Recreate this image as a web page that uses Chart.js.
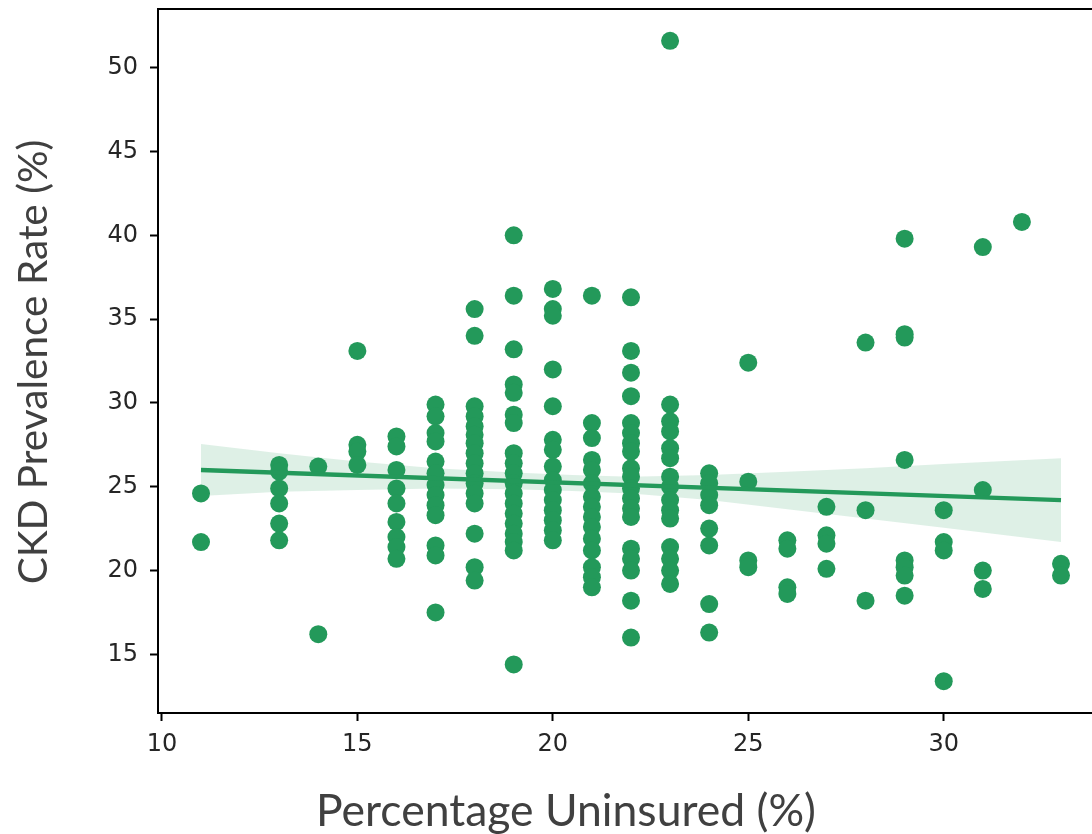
<!DOCTYPE html>
<html>
<head>
<meta charset="utf-8">
<script src="https://cdn.jsdelivr.net/npm/chart.js@4.4.1/dist/chart.umd.min.js"></script>
<style>
  html, body { margin: 0; padding: 0; overflow: hidden; background: #fff; }
  #wrap { width: 1113px; height: 834px; }
</style>
</head>
<body>
<div id="wrap"><canvas id="grafico" width="1113" height="834"></canvas></div>
<script>
// % sin seguro por condado (eje x) y prevalencia de ERC en cada uno (eje y)
const uninsured = [11, 13, 14, 15, 16, 17, 18, 19, 20, 21, 22, 23, 24, 25, 26, 27, 28, 29, 30, 31, 32, 33];
const ckdRates = [
  [24.6, 21.7],
  [26.3, 25.9, 24.9, 24.0, 22.8, 21.8],
  [26.2, 16.2],
  [33.1, 27.5, 27.1, 26.3],
  [28.0, 27.4, 26.0, 24.9, 24.0, 22.9, 22.0, 21.4, 20.7],
  [29.9, 29.2, 28.2, 27.7, 26.5, 25.8, 25.1, 24.5, 23.9, 23.3, 21.5, 20.9, 17.5],
  [35.6, 34.0, 29.8, 29.2, 28.6, 28.1, 27.6, 27.0, 26.4, 25.8, 25.2, 24.6, 24.0, 22.2, 20.2, 19.4],
  [40.0, 36.4, 33.2, 31.1, 30.6, 29.3, 28.8, 27.0, 26.4, 25.8, 25.2, 24.6, 24.0, 23.4, 22.8, 22.2, 21.7, 21.2, 14.4],
  [36.8, 35.6, 35.2, 32.0, 29.8, 27.8, 27.2, 26.2, 25.4, 24.8, 24.2, 23.6, 23.0, 22.4, 21.8],
  [36.4, 28.8, 27.9, 26.6, 26.0, 25.2, 24.4, 23.8, 23.2, 22.6, 21.9, 21.2, 20.2, 19.6, 19.0],
  [36.3, 33.1, 31.8, 30.4, 28.8, 28.2, 27.6, 27.1, 26.1, 25.6, 24.9, 24.3, 23.7, 23.2, 21.3, 20.7, 20.0, 18.2, 16.0],
  [51.6, 29.9, 28.9, 28.3, 27.3, 26.7, 25.6, 25.0, 24.2, 23.6, 23.1, 21.4, 20.7, 20.0, 19.2],
  [25.8, 25.2, 24.5, 23.9, 22.5, 21.5, 18.0, 16.3],
  [32.4, 25.3, 20.6, 20.2],
  [21.8, 21.3, 19.0, 18.6],
  [23.8, 22.1, 21.6, 20.1],
  [33.6, 23.6, 18.2],
  [39.8, 34.1, 33.9, 26.6, 20.6, 20.2, 19.7, 18.5],
  [23.6, 21.7, 21.2, 13.4],
  [39.3, 24.8, 20.0, 18.9],
  [40.8],
  [20.4, 19.7]
];

// recta de regresión y su intervalo de confianza
const trendX = [11, 33];
const trendY = [26.0, 24.2];
const bandX = [11, 13, 15, 17, 19, 20.5, 22, 24, 26, 28, 30, 33];
const bandUpper = [27.55, 27.0, 26.5, 26.1, 25.85, 25.7, 25.6, 25.7, 25.9, 26.1, 26.35, 26.7];
const bandLower = [24.45, 24.7, 24.8, 24.9, 24.85, 24.75, 24.6, 24.2, 23.65, 23.1, 22.55, 21.7];

const xTicks = [10, 15, 20, 25, 30];
const yTicks = [15, 20, 25, 30, 35, 40, 45, 50];

const xTitle = "Percentage Uninsured (%)";
const yTitle = "CKD Prevalence Rate (%)";

const verde = "#23995a";
const bandaColor = "rgba(35, 153, 90, 0.15)";

const puntos = uninsured.flatMap((x, i) => ckdRates[i].map(y => ({ x, y })));
const tendencia = trendX.map((x, i) => ({ x, y: trendY[i] }));
const superior = bandX.map((x, i) => ({ x, y: bandUpper[i] }));
const inferior = bandX.map((x, i) => ({ x, y: bandLower[i] }));

// marco superior/derecho y títulos de ejes
const marcoYTitulos = {
  id: "marcoYTitulos",
  afterDraw(chart) {
    const { ctx, chartArea } = chart;
    ctx.save();
    ctx.strokeStyle = "#000";
    ctx.lineWidth = 2;
    ctx.beginPath();
    ctx.moveTo(chartArea.left - 1, chartArea.top);
    ctx.lineTo(chartArea.right, chartArea.top);
    ctx.lineTo(chartArea.right, chartArea.bottom);
    ctx.stroke();

    ctx.fillStyle = "#404040";
    ctx.textAlign = "center";
    ctx.textBaseline = "middle";

    // ajusta el tamaño para que el texto ocupe el ancho deseado
    const fit = (text, width) => {
      ctx.font = "40px Lato";
      return 40 * width / ctx.measureText(text).width;
    };

    ctx.font = fit(xTitle, 500).toFixed(1) + "px Lato";
    ctx.fillText(xTitle, 566, 812);

    ctx.font = fit(yTitle, 445).toFixed(1) + "px Lato";
    ctx.translate(34, 362);
    ctx.rotate(-Math.PI / 2);
    ctx.fillText(yTitle, 0, 0);
    ctx.restore();
  }
};

const tickFont = { family: "DejaVu Sans", size: 24 };

const ctx = document.getElementById("grafico").getContext("2d");
const chart = new Chart(ctx, {
  type: "scatter",
  data: {
    datasets: [
      {
        data: superior, showLine: true, borderWidth: 0, pointRadius: 0,
        fill: "+1", backgroundColor: bandaColor, order: 3
      },
      {
        data: inferior, showLine: true, borderWidth: 0, pointRadius: 0,
        fill: false, order: 3
      },
      {
        data: puntos, pointRadius: 9, pointHoverRadius: 9,
        pointBackgroundColor: verde, pointBorderWidth: 0, order: 2
      },
      {
        data: tendencia, showLine: true, borderColor: verde, borderWidth: 4.5,
        pointRadius: 0, fill: false, order: 1
      }
    ]
  },
  options: {
    responsive: false,
    animation: false,
    layout: { padding: { top: 8, right: 5, left: 0, bottom: 0 } },
    plugins: {
      legend: { display: false },
      tooltip: { enabled: false }
    },
    scales: {
      x: {
        type: "linear",
        min: 9.9,
        max: 34.1,
        afterBuildTicks: s => { s.ticks = xTicks.map(v => ({ value: v })); },
        afterFit: s => { s.height = 121; s.paddingLeft = 0; s.paddingRight = 0; },
        grid: { display: true, drawOnChartArea: false, drawTicks: true, tickLength: 8, tickWidth: 2, tickColor: "#000" },
        border: { display: true, color: "#000", width: 2 },
        ticks: { font: tickFont, color: "#262626", padding: 9, maxRotation: 0 }
      },
      y: {
        type: "linear",
        min: 11.5,
        max: 53.5,
        afterBuildTicks: s => { s.ticks = yTicks.map(v => ({ value: v })); },
        afterFit: s => { s.width = 158; s.paddingTop = 0; s.paddingBottom = 0; },
        grid: { display: true, drawOnChartArea: false, drawTicks: true, tickLength: 8, tickWidth: 2, tickColor: "#000" },
        border: { display: true, color: "#000", width: 2 },
        ticks: { font: tickFont, color: "#262626", padding: 12 }
      }
    }
  },
  plugins: [marcoYTitulos]
});
</script>
</body>
</html>
